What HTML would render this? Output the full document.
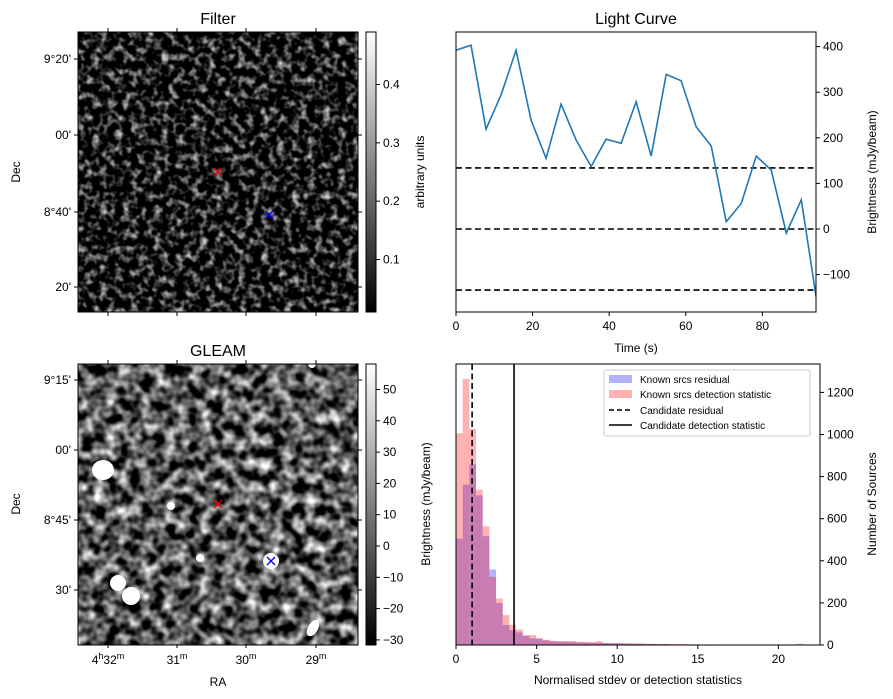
<!DOCTYPE html>
<html><head><meta charset="utf-8">
<style>
html,body{margin:0;padding:0;background:#fff;}
svg{display:block;font-family:"Liberation Sans","DejaVu Sans",sans-serif;}
</style></head>
<body>
<svg id="fig" width="893" height="699" viewBox="0 0 893 699" xmlns="http://www.w3.org/2000/svg">
<defs>
<filter id="noiseA" x="0" y="0" width="100%" height="100%" color-interpolation-filters="sRGB">
<feTurbulence type="fractalNoise" baseFrequency="0.13" numOctaves="2" seed="3"/>
<feColorMatrix type="matrix" values="0 0 0 0 0  1 0 0 0 0  0 0 0 0 0  0 0 0 0 1"/>
<feColorMatrix type="matrix" values="0 1 0 0 0  0 1 0 0 0  0 1 0 0 0  0 0 0 0 1"/>
<feComponentTransfer><feFuncR type="linear" slope="1.9" intercept="-0.85"/><feFuncG type="linear" slope="1.9" intercept="-0.85"/><feFuncB type="linear" slope="1.9" intercept="-0.85"/></feComponentTransfer>
</filter>
<filter id="noiseB" x="0" y="0" width="100%" height="100%" color-interpolation-filters="sRGB">
<feTurbulence type="fractalNoise" baseFrequency="0.085" numOctaves="2" seed="7"/>
<feColorMatrix type="matrix" values="0 0 0 0 0  1 0 0 0 0  0 0 0 0 0  0 0 0 0 1"/>
<feColorMatrix type="matrix" values="0 1 0 0 0  0 1 0 0 0  0 1 0 0 0  0 0 0 0 1"/>
<feComponentTransfer><feFuncR type="linear" slope="2.0" intercept="-0.65"/><feFuncG type="linear" slope="2.0" intercept="-0.65"/><feFuncB type="linear" slope="2.0" intercept="-0.65"/></feComponentTransfer>
</filter>
<linearGradient id="cbar" x1="0" y1="1" x2="0" y2="0"><stop offset="0" stop-color="#000"/><stop offset="1" stop-color="#fff"/></linearGradient>
<clipPath id="clipB"><rect x="78" y="364" width="280" height="281"/></clipPath>
<clipPath id="clipLC"><rect x="456" y="32" width="360" height="280"/></clipPath>
</defs>

<g>
<text x="218" y="24" font-size="16" text-anchor="middle">Filter</text>
<rect x="78" y="32" width="280" height="280" fill="#222" filter="url(#noiseA)"/>
<g stroke="#e00" stroke-width="1.3"><line x1="214" y1="168" x2="222" y2="176"/><line x1="222" y1="168" x2="214" y2="176"/></g>
<g stroke="#00e" stroke-width="1.3"><line x1="265" y1="211" x2="273" y2="219"/><line x1="273" y1="211" x2="265" y2="219"/></g>
<rect x="78" y="32" width="280" height="280" fill="none" stroke="#000" stroke-width="1"/>
<g id="filterTicks" font-size="12"></g>
<text x="20" y="172" font-size="12" text-anchor="middle" transform="rotate(-90 20 172)">Dec</text>
<rect x="366" y="32" width="10" height="280" fill="url(#cbar)" stroke="#000" stroke-width="1"/>
<g id="cbA" font-size="12"></g>
<text x="424" y="172" font-size="12" text-anchor="middle" transform="rotate(-90 424 172)">arbitrary units</text>
</g>

<g>
<text x="218" y="356" font-size="16" text-anchor="middle">GLEAM</text>
<g clip-path="url(#clipB)">
<rect x="78" y="364" width="280" height="281" fill="#555" filter="url(#noiseB)"/>
<g fill="#fff">
<ellipse cx="103" cy="470" rx="11" ry="10"/><circle cx="118" cy="583" r="8"/><circle cx="131" cy="596" r="9"/>
<ellipse cx="313" cy="628" rx="5" ry="9" transform="rotate(30 313 628)"/><circle cx="271" cy="561" r="8"/>
<circle cx="200" cy="558" r="4"/><circle cx="171" cy="506" r="4"/><circle cx="312" cy="364" r="4"/>
</g>
</g>
<g stroke="#e00" stroke-width="1.3"><line x1="214" y1="500" x2="222" y2="508"/><line x1="222" y1="500" x2="214" y2="508"/></g>
<g stroke="#00e" stroke-width="1.3"><line x1="267" y1="557" x2="275" y2="565"/><line x1="275" y1="557" x2="267" y2="565"/></g>
<rect x="78" y="364" width="280" height="281" fill="none" stroke="#000" stroke-width="1"/>
<g id="gleamTicks" font-size="12"></g>
<text x="20" y="504" font-size="12" text-anchor="middle" transform="rotate(-90 20 504)">Dec</text>
<text x="218" y="686" font-size="12" text-anchor="middle">RA</text>
<rect x="366" y="364" width="10" height="281" fill="url(#cbar)" stroke="#000" stroke-width="1"/>
<g id="cbB" font-size="12"></g>
<text x="430" y="504" font-size="12" text-anchor="middle" transform="rotate(-90 430 504)">Brightness (mJy/beam)</text>
</g>

<g>
<text x="636" y="24" font-size="16" text-anchor="middle">Light Curve</text>
<g id="lc" clip-path="url(#clipLC)"></g>
<rect x="456" y="32" width="360" height="280" fill="none" stroke="#000" stroke-width="1"/>
<g id="lcTicks" font-size="12"></g>
<text x="636" y="352" font-size="12" text-anchor="middle">Time (s)</text>
<text x="876" y="172" font-size="12" text-anchor="middle" transform="rotate(-90 876 172)">Brightness (mJy/beam)</text>
</g>

<g>
<g id="hist"></g>
<rect x="456" y="364" width="364" height="281" fill="none" stroke="#000" stroke-width="1"/>
<g id="histTicks" font-size="12"></g>
<text x="638" y="684" font-size="12" text-anchor="middle">Normalised stdev or detection statistics</text>
<text x="876" y="504" font-size="12" text-anchor="middle" transform="rotate(-90 876 504)">Number of Sources</text>
<g>
<rect x="604" y="370" width="206" height="66" fill="#fff" stroke="#ccc" rx="2"/>
<rect x="609" y="375" width="23" height="8" fill="#b2b2ff"/>
<text x="640" y="383" font-size="10">Known srcs residual</text>
<rect x="609" y="390" width="23" height="8" fill="#ffb2b2"/>
<text x="640" y="398" font-size="10">Known srcs detection statistic</text>
<line x1="609" y1="410" x2="632" y2="410" stroke="#000" stroke-width="1.5" stroke-dasharray="5,3"/>
<text x="640" y="414" font-size="10">Candidate residual</text>
<line x1="609" y1="425" x2="632" y2="425" stroke="#000" stroke-width="1.5"/>
<text x="640" y="429" font-size="10">Candidate detection statistic</text>
</g>
</g>
</svg>
<script>
const lcTimes = [0,3.92,7.84,11.76,15.68,19.6,23.52,27.44,31.36,35.28,39.2,43.12,47.04,50.96,54.88,58.8,62.72,66.64,70.56,74.48,78.4,82.32,86.24,90.16,94.08];
const lcFlux = [392,403,219,294,392,239,155,274,195,137,197,188,279,160,339,325,224,182,16,56,160,129,-9,64,-151];
const lcThresholds = [134,0,-134];
const lcXTicks = [0,20,40,60,80];
const lcYTicks = [-100,0,100,200,300,400];
const binWidth = 0.414;
const residualCounts = [505,762,858,711,517,359,200,95,71,60,43,32,30,22,18,16,15,14,12,11,10,10,9,8,8,7,6,6,5,5,4,4,3,3,3,2,2,2,2,2,2,1,1,1,1,1,0,0,0,0,0,0];
const detectionCounts = [1006,1264,1027,738,564,324,221,142,95,74,47,47,32,25,20,19,19,18,16,15,14,18,10,9,10,8,8,7,6,6,5,5,4,4,4,3,3,3,3,2,2,2,2,2,2,1,1,1,1,1,1,6];
const candidateResidual = 1.0;
const candidateDetection = 3.6;
const histXTicks = [0,5,10,15,20];
const histYTicks = [0,200,400,600,800,1000,1200];
const decTicksFilter = ["9°20'","00'","8°40'","20'"];
const decTicksGleam = ["9°15'","00'","8°45'","30'"];
const raTicks = ["32","31","30","29"];
const cbTicksA = [0.1,0.2,0.3,0.4];
const cbTicksB = [-30,-20,-10,0,10,20,30,40,50];

const NS="http://www.w3.org/2000/svg";
function mk(tag,attrs,parent,text){const e=document.createElementNS(NS,tag);for(const k in attrs)e.setAttribute(k,attrs[k]);if(text!==undefined)e.textContent=text;parent.appendChild(e);return e;}
const fmt=v=>v<0?"\u2212"+Math.abs(v):String(v);

const lcX=t=>456+t*(360/94);
const lcY=v=>229-v*0.456;
const lc=document.getElementById('lc');
lcThresholds.forEach(v=>{const l=mk('line',{x1:456,x2:816,y1:lcY(v),y2:lcY(v),stroke:'#000','stroke-width':1.6,'stroke-dasharray':'6,3.5'},lc);

});
const pl=mk('polyline',{points:lcTimes.map((t,i)=>lcX(t)+','+lcY(lcFlux[i])).join(' '),fill:'none',stroke:'#1f77b4','stroke-width':1.6},lc);


const lt=document.getElementById('lcTicks');
lcXTicks.forEach(t=>{mk('line',{x1:lcX(t),x2:lcX(t),y1:312,y2:316,stroke:'#000'},lt);const tx=mk('text',{x:lcX(t),y:330,'text-anchor':'middle'},lt,t);

});
lcYTicks.forEach(v=>{mk('line',{x1:816,x2:820,y1:lcY(v),y2:lcY(v),stroke:'#000'},lt);const tx=mk('text',{x:823,y:lcY(v)+4},lt,fmt(v));

});

const hX=v=>456+v*16.12;
const hY=c=>645-c*0.2105;
const hg=document.getElementById('hist');
residualCounts.forEach((c,i)=>{if(c<=0)return;const r=mk('rect',{x:hX(i*binWidth),y:hY(c),width:binWidth*16.12,height:645-hY(c),fill:'#0000ff','fill-opacity':0.3},hg);

});
detectionCounts.forEach((c,i)=>{if(c<=0)return;const r=mk('rect',{x:hX(i*binWidth),y:hY(c),width:binWidth*16.12,height:645-hY(c),fill:'#ff0000','fill-opacity':0.3},hg);

});
const cr=mk('line',{x1:hX(candidateResidual),x2:hX(candidateResidual),y1:364,y2:645,stroke:'#000','stroke-width':1.6,'stroke-dasharray':'6,3.5'},hg);


const cd=mk('line',{x1:hX(candidateDetection),x2:hX(candidateDetection),y1:364,y2:645,stroke:'#000','stroke-width':1.6},hg);


const ht=document.getElementById('histTicks');
histXTicks.forEach(t=>{mk('line',{x1:hX(t),x2:hX(t),y1:645,y2:649,stroke:'#000'},ht);const tx=mk('text',{x:hX(t),y:663,'text-anchor':'middle'},ht,t);

});
histYTicks.forEach(v=>{mk('line',{x1:820,x2:824,y1:hY(v),y2:hY(v),stroke:'#000'},ht);const tx=mk('text',{x:827,y:hY(v)+4},ht,v);

});

function imgTicks(id,top,decLabels,decY,raX,showRA){
 const g=document.getElementById(id);const bot=top+280;
 decLabels.forEach((l,i)=>{const y=decY[i];mk('line',{x1:74,x2:78,y1:y,y2:y,stroke:'#000'},g);mk('line',{x1:358,x2:362,y1:y,y2:y,stroke:'#000'},g);
 const tx=mk('text',{x:71,y:y+4,'text-anchor':'end'},g,l);
 
 });
 raTicks.forEach((r,i)=>{const x=raX[i];mk('line',{x1:x,x2:x,y1:bot,y2:bot+4,stroke:'#000'},g);mk('line',{x1:x,x2:x,y1:top-4,y2:top,stroke:'#000'},g);
 if(showRA){const tx=mk('text',{x:x,y:bot+20,'text-anchor':'middle'},g);
 
 
 if(i===0){mk('tspan',{},tx,'4');mk('tspan',{'font-size':9,dy:-5},tx,'h');mk('tspan',{dy:5},tx,r);}else{mk('tspan',{},tx,r);}
 mk('tspan',{'font-size':9,dy:-5},tx,'m');}});
}
imgTicks('filterTicks',32,decTicksFilter,[59,135,212,287],[108,177,246,316],false);
imgTicks('gleamTicks',364,decTicksGleam,[380,450,520,590],[108,177,246,316],true);

function cb(id,ticks,v2y){const g=document.getElementById(id);ticks.forEach(v=>{const y=v2y(v);mk('line',{x1:376,x2:380,y1:y,y2:y,stroke:'#000'},g);
 const tx=mk('text',{x:383,y:y+4},g,fmt(v));
 
 });}
cb('cbA',cbTicksA,v=>32+(0.49-v)/0.48*280);
cb('cbB',cbTicksB,v=>546-v*3.13);
</script>
</body></html>
